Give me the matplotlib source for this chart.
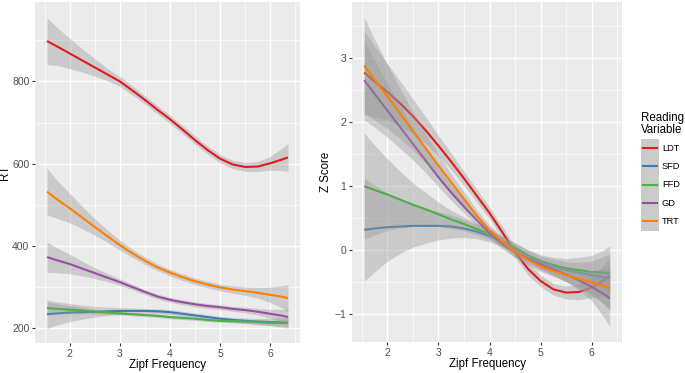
"""
plot.py
Smoothed RT and z-score curves by Zipf frequency for five reading variables.
"""
import matplotlib
matplotlib.use("Agg")
import matplotlib.pyplot as plt
from matplotlib.lines import Line2D
from matplotlib.patches import Rectangle
from matplotlib.ticker import AutoMinorLocator, MultipleLocator

plt.rcParams['font.family'] = ['Liberation Sans', 'DejaVu Sans']

W, H = 685, 373

zipf = [1.55, 1.75, 2.0, 2.25, 2.5, 2.75, 3.0, 3.25, 3.5, 3.75, 4.0,
        4.25, 4.5, 4.75, 5.0, 5.25, 5.5, 5.75, 6.0, 6.25, 6.35]

variables = ['LDT', 'SFD', 'FFD', 'GD', 'TRT']
colors = ['#E41A1C', '#377EB8', '#4DAF4A', '#984EA3', '#FF7F00']

# left panel: raw RT (ms)
rt_ldt = [898, 885, 868, 851, 834, 817, 800, 778, 755, 731, 708,
          683, 657, 633, 612, 598, 592, 593, 601, 611, 615]
rt_sfd = [234, 236, 238, 239, 240, 241, 242, 242, 242, 241, 239,
          235, 231, 227, 223, 220, 218, 216, 215, 214, 214]
rt_ffd = [249, 247, 245, 243, 240, 238, 236, 234, 232, 230, 227,
          225, 223, 220, 218, 217, 216, 215, 213, 213, 213]
rt_gd = [373, 365, 356, 345, 334, 323, 312, 300, 288, 277, 269,
         263, 258, 254, 251, 247, 244, 240, 235, 230, 227]
rt_trt = [532, 513, 492, 469, 446, 424, 402, 382, 364, 348, 335,
          324, 314, 306, 299, 294, 290, 286, 281, 276, 273]

# half width of the confidence band, RT
rt_se_ldt = [57, 46, 37, 28, 21, 15, 12, 11, 10, 10, 10,
             10, 10, 10, 10, 10, 11, 12, 17, 28, 34]
rt_se_sfd = [35, 28, 22, 17, 13, 10, 8, 7, 6, 6, 6,
             6, 6, 6, 6, 6, 7, 8, 9, 12, 14]
rt_se_ffd = [15, 12, 10, 8, 6, 5, 4, 4, 4, 4, 4,
             4, 4, 4, 4, 4, 4, 5, 6, 8, 10]
rt_se_gd = [37, 30, 24, 18, 13, 10, 8, 7, 6, 6, 6,
            6, 6, 6, 6, 6, 7, 8, 11, 16, 19]
rt_se_trt = [57, 46, 36, 27, 20, 15, 12, 10, 9, 8, 8,
             8, 8, 8, 8, 9, 10, 13, 19, 28, 33]

# right panel: z scores
z_ldt = [2.77, 2.63, 2.47, 2.29, 2.09, 1.87, 1.63, 1.38, 1.12, 0.85, 0.58,
         0.28, -0.03, -0.29, -0.48, -0.61, -0.66, -0.65, -0.58, -0.46, -0.40]
z_sfd = [0.32, 0.34, 0.36, 0.37, 0.38, 0.38, 0.38, 0.37, 0.34, 0.29, 0.22,
         0.13, 0.03, -0.08, -0.18, -0.25, -0.31, -0.35, -0.39, -0.42, -0.43]
z_ffd = [1.00, 0.94, 0.87, 0.79, 0.71, 0.64, 0.56, 0.48, 0.41, 0.33, 0.25,
         0.14, 0.04, -0.08, -0.17, -0.23, -0.28, -0.31, -0.34, -0.35, -0.36]
z_gd = [2.65, 2.44, 2.18, 1.92, 1.66, 1.40, 1.14, 0.90, 0.68, 0.47, 0.27,
        0.10, -0.03, -0.13, -0.22, -0.30, -0.38, -0.47, -0.57, -0.69, -0.75]
z_trt = [2.88, 2.66, 2.40, 2.13, 1.86, 1.59, 1.32, 1.06, 0.80, 0.54, 0.31,
         0.13, -0.03, -0.15, -0.25, -0.32, -0.39, -0.45, -0.50, -0.56, -0.59]

z_se_ldt = [0.65, 0.55, 0.44, 0.35, 0.27, 0.21, 0.16, 0.13, 0.11, 0.10, 0.09,
            0.09, 0.09, 0.09, 0.09, 0.09, 0.10, 0.12, 0.16, 0.25, 0.30]
z_se_sfd = [0.80, 0.68, 0.53, 0.42, 0.33, 0.27, 0.22, 0.18, 0.14, 0.11, 0.09,
            0.08, 0.08, 0.09, 0.11, 0.14, 0.18, 0.24, 0.31, 0.43, 0.50]
z_se_ffd = [0.83, 0.70, 0.56, 0.44, 0.34, 0.26, 0.19, 0.14, 0.11, 0.09, 0.08,
            0.08, 0.08, 0.08, 0.08, 0.09, 0.10, 0.12, 0.17, 0.26, 0.30]
z_se_gd = [0.62, 0.52, 0.42, 0.33, 0.25, 0.19, 0.15, 0.12, 0.10, 0.09, 0.08,
           0.08, 0.08, 0.08, 0.08, 0.09, 0.11, 0.15, 0.22, 0.37, 0.44]
z_se_trt = [0.75, 0.63, 0.50, 0.39, 0.30, 0.23, 0.17, 0.13, 0.11, 0.09, 0.08,
            0.08, 0.08, 0.08, 0.08, 0.09, 0.10, 0.13, 0.18, 0.28, 0.33]


def style_panel(ax):
    """ggplot2 theme_grey look."""
    ax.set_facecolor('#EBEBEB')
    for s in ax.spines.values():
        s.set_visible(False)
    ax.xaxis.set_minor_locator(AutoMinorLocator(2))
    ax.yaxis.set_minor_locator(AutoMinorLocator(2))
    ax.grid(which='major', color='white', linewidth=1.0)
    ax.grid(which='minor', color='white', linewidth=0.5)
    ax.set_axisbelow(True)
    ax.tick_params(which='major', direction='out', length=2.5, width=0.8,
                   color='#333333', labelcolor='#4D4D4D', labelsize=7.5, pad=1.5)
    ax.tick_params(which='minor', length=0)


def draw_smooths(ax, curves, bands):
    # ggplot draws ribbon then line per group, so later ribbons cover earlier lines
    for i, (y, se, c) in enumerate(zip(curves, bands, colors)):
        lo = [v - s for v, s in zip(y, se)]
        hi = [v + s for v, s in zip(y, se)]
        ax.fill_between(zipf, lo, hi, color='#999999', alpha=0.4,
                        linewidth=0, zorder=2 + 2 * i)
        ax.plot(zipf, y, color=c, linewidth=1.5, zorder=3 + 2 * i,
                solid_capstyle='butt', solid_joinstyle='round')


def fx(px):
    return px / W


def fy(py):
    return 1 - py / H


def draw_legend(fig):
    """ggplot style legend: grey key squares with a coloured line."""
    fig.text(fx(641), fy(112), 'Reading\nVariable', fontsize=8.3,
             ha='left', va='top', linespacing=1.0, color='black')
    key = 18.3
    top = 139
    for i, (name, c) in enumerate(zip(variables, colors)):
        y0 = top + i * key
        fig.add_artist(Rectangle((fx(641), fy(y0 + key)), fx(18), key / H,
                                 facecolor='#CBCBCB', edgecolor='none',
                                 transform=fig.transFigure))
        yc = fy(y0 + key / 2)
        fig.add_artist(Line2D([fx(642), fx(658)], [yc, yc], color=c,
                              linewidth=1.5, solid_capstyle='butt',
                              transform=fig.transFigure))
        fig.text(fx(662), yc, name, fontsize=6.7, ha='left', va='center',
                 color='black')


def main():
    fig = plt.figure(figsize=(W / 100, H / 100), dpi=100)
    ax1 = fig.add_axes([fx(35), fy(343), fx(300 - 35), (343 - 2) / H])
    ax2 = fig.add_axes([fx(352), fy(342), fx(622 - 352), (342 - 2) / H])

    draw_smooths(ax1, [rt_ldt, rt_sfd, rt_ffd, rt_gd, rt_trt],
                 [rt_se_ldt, rt_se_sfd, rt_se_ffd, rt_se_gd, rt_se_trt])
    draw_smooths(ax2, [z_ldt, z_sfd, z_ffd, z_gd, z_trt],
                 [z_se_ldt, z_se_sfd, z_se_ffd, z_se_gd, z_se_trt])

    for ax in (ax1, ax2):
        style_panel(ax)
        ax.set_xlim(1.31, 6.59)
        ax.xaxis.set_major_locator(MultipleLocator(1))
        ax.set_xlabel('Zipf Frequency', fontsize=8.3, labelpad=0.5)

    ax1.set_ylim(164, 993)
    ax1.yaxis.set_major_locator(MultipleLocator(200))
    ax1.set_ylabel('RT', fontsize=8.3, labelpad=1)

    ax2.set_ylim(-1.43, 3.87)
    ax2.yaxis.set_major_locator(MultipleLocator(1))
    ax2.set_ylabel('Z Score', fontsize=8.3, labelpad=1.5)

    draw_legend(fig)

    fig.savefig('out.png', dpi=100)
    plt.close(fig)


if __name__ == "__main__":
    main()
